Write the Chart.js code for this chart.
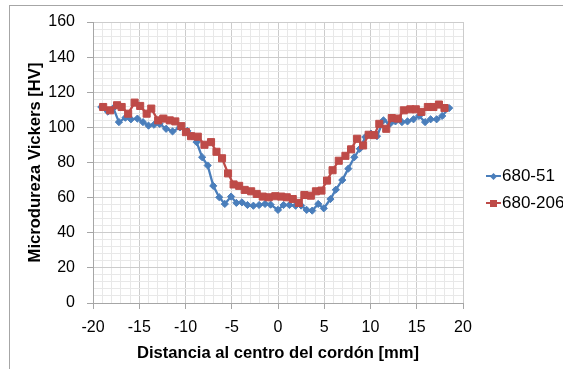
<!DOCTYPE html>
<html>
<head>
<meta charset="utf-8">
<script src="https://cdn.jsdelivr.net/npm/chart.js@4.4.1/dist/chart.umd.min.js"></script>
<style>
    html, body { margin: 0; padding: 0; background: #fff; overflow: hidden; }
    #wrap { position: relative; width: 563px; height: 369px; overflow: hidden; }
    #frame { position: absolute; left: 9px; top: 5px; width: 640px; height: 420px; border: 1px solid #a6a6a6; }
    #chart_canvas { position: absolute; left: 0; top: 0; }
    #legend { position: absolute; left: 486px; top: 0; font: 17px "Liberation Sans", Arial, sans-serif; color: #000; white-space: nowrap; }
    .legend_row { position: absolute; left: 0; height: 20px; display: flex; align-items: center; }
    .legend_key { position: relative; width: 15px; height: 20px; margin-right: 1px; }
    .legend_key .line { position: absolute; left: 0; right: 0; top: 9px; height: 2px; }
    .legend_key .mark { position: absolute; }
</style>
</head>
<body>
<div id="wrap">
    <div id="frame"></div>
    <canvas id="chart_canvas" width="563" height="369"></canvas>
    <div id="legend"></div>
</div>
<script>
// distancia al centro del cordon [mm] y microdureza [HV]
let series_names = ["680-51", "680-206"];

let x_680_51 = [-19.1, -18.4, -17.8, -17.2, -16.5, -15.9, -15.2, -14.6, -14.0, -13.4, -12.8, -12.1, -11.4, -10.6,
    -9.8, -9.3, -8.8, -8.2, -7.6, -7.0, -6.35, -5.75, -5.07, -4.5, -3.9, -3.3, -2.66, -2.04, -1.4, -0.8, 0.0,
    0.6, 1.24, 1.9, 2.5, 3.1, 3.7, 4.35, 4.95, 5.67, 6.25, 6.95, 7.6, 8.25, 8.84, 9.44, 10.05, 10.7, 11.4,
    12.1, 12.7, 13.4, 14.0, 14.65, 15.25, 15.9, 16.5, 17.15, 17.75, 18.5];
let y_680_51 = [111.6, 109, 111, 103, 105.5, 104.6, 105, 103, 101, 101.5, 102, 99.2, 97.7, 100,
    98, 95, 91.6, 83, 78.3, 66.7, 60.2, 56.4, 60.6, 57, 57.3, 55.8, 55.4, 55.8, 56.4, 56, 53,
    55.8, 55.8, 55.4, 55.5, 53, 52.6, 56.4, 53.9, 59.2, 64.5, 70, 76.5, 83, 87.8, 94.5, 96.4, 95, 104,
    102, 103.4, 103, 103.4, 104.6, 106.5, 103, 104.6, 104.6, 106.5, 111];

let x_680_206 = [-18.9, -18.15, -17.4, -16.9, -16.2, -15.5, -14.9, -14.2, -13.7, -12.96, -12.4, -11.7, -11.1,
    -10.45, -9.95, -9.4, -8.67, -7.95, -7.24, -6.65, -6.05, -5.4, -4.8, -4.2, -3.6, -2.9, -2.3, -1.65, -1.0,
    -0.3, 0.35, 0.95, 1.6, 2.25, 2.85, 3.55, 4.1, 4.7, 5.3, 5.9, 6.57, 7.29, 7.9, 8.55, 9.2, 9.8, 10.4,
    10.95, 11.7, 12.3, 12.96, 13.6, 14.3, 14.9, 15.5, 16.2, 16.8, 17.4, 18.0];
let y_680_206 = [111.6, 109.7, 112.6, 111.6, 107.8, 114.1, 112.2, 107.8, 110.7, 104, 105, 104, 103.4,
    100.7, 97.3, 95, 94.7, 90.1, 91.6, 86.1, 82.4, 73.8, 67.5, 66.7, 64.4, 63.6, 62.1, 60.6, 60.2,
    60.8, 60.6, 60.2, 59.2, 57, 61.5, 61.1, 63.6, 64, 69.7, 75.6, 81, 83.8, 87.5, 93.5, 89.7, 95.8, 95.6,
    102, 99.2, 105.3, 105, 109.7, 110.3, 110.3, 108.8, 111.6, 111.6, 113, 111];

let x_tick_labels = [-20, -15, -10, -5, 0, 5, 10, 15, 20];
let y_tick_labels = [0, 20, 40, 60, 80, 100, 120, 140, 160];

let series_colors = ["#4a7ebb", "#be4b48"];

document.addEventListener("DOMContentLoaded", ()=>{
    initialize_page();
});

function initialize_page(){
    let canvas = document.getElementById("chart_canvas");
    let datasets = [
        new_line_dataset(series_names[0], x_680_51, y_680_51, series_colors[0], "rectRot", 3.6, 1),
        new_line_dataset(series_names[1], x_680_206, y_680_206, series_colors[1], "rect", 5, 0)
    ];
    new_scatter_chart(canvas, datasets);
    build_legend(document.getElementById("legend"));
}

function to_points(xs, ys){
    let points = [];
    for(let i = 0; i < xs.length; i++){
        points.push({x: xs[i], y: ys[i]});
    }
    return points;
}

function new_line_dataset(label, xs, ys, color, point_style, radius, order){
    return {
        label: label,
        data: to_points(xs, ys),
        borderColor: color,
        backgroundColor: color,
        borderWidth: 2.3,
        showLine: true,
        pointStyle: point_style,
        pointRadius: radius,
        pointBorderWidth: 1,
        pointBackgroundColor: color,
        pointBorderColor: color,
        order: order
    };
}

function grid_color(is_major){
    return is_major ? "#cccccc" : "#e8e8e8";
}

function new_scatter_chart(canvas, datasets){
    let tick_font = {family: "'Liberation Sans', Arial, sans-serif", size: 16};
    let title_font = {family: "'Liberation Sans', Arial, sans-serif", size: 16.6, weight: "bold"};

    return new Chart(canvas, {
        type: "scatter",
        data: {datasets: datasets},
        options: {
            responsive: false,
            animation: false,
            layout: {padding: {top: 22, right: 100, bottom: 0, left: 0}},
            plugins: {
                legend: {display: false},
                tooltip: {enabled: false}
            },
            scales: {
                x: {
                    type: "linear",
                    min: -20,
                    max: 20,
                    afterFit: (scale)=>{ scale.height = 66; },
                    ticks: {
                        stepSize: 1,
                        autoSkip: false,
                        maxRotation: 0,
                        padding: 9,
                        color: "#000",
                        font: tick_font,
                        callback: (value)=> x_tick_labels.includes(value) ? String(value) : ""
                    },
                    grid: {
                        color: (ctx)=> grid_color(x_tick_labels.includes(ctx.tick.value)),
                        tickColor: (ctx)=> x_tick_labels.includes(ctx.tick.value) ? "#a6a6a6" : "rgba(0,0,0,0)",
                        tickLength: 6
                    },
                    border: {color: "#a6a6a6", width: 1},
                    title: {
                        display: true,
                        text: "Distancia al centro del cordón [mm]",
                        color: "#000",
                        font: title_font,
                        padding: {top: 0, bottom: 6}
                    }
                },
                y: {
                    type: "linear",
                    min: 0,
                    max: 160,
                    afterFit: (scale)=>{ scale.width = 93; },
                    ticks: {
                        stepSize: 4,
                        autoSkip: false,
                        padding: 12,
                        color: "#000",
                        font: tick_font,
                        callback: (value)=> y_tick_labels.includes(value) ? String(value) : ""
                    },
                    grid: {
                        color: (ctx)=> grid_color(y_tick_labels.includes(ctx.tick.value)),
                        tickColor: (ctx)=> y_tick_labels.includes(ctx.tick.value) ? "#a6a6a6" : "rgba(0,0,0,0)",
                        tickLength: 6
                    },
                    border: {color: "#a6a6a6", width: 1},
                    title: {
                        display: true,
                        text: "Microdureza Vickers [HV]",
                        color: "#000",
                        font: title_font,
                        padding: {top: 25, bottom: 0}
                    }
                }
            }
        }
    });
}

function build_legend(legend){
    let row_tops = [166, 193];
    for(let i = 0; i < series_names.length; i++){
        let row = document.createElement("div");
        row.className = "legend_row";
        row.style.top = row_tops[i] + "px";

        let key = document.createElement("span");
        key.className = "legend_key";
        let line = document.createElement("span");
        line.className = "line";
        line.style.background = series_colors[i];
        let mark = document.createElement("span");
        mark.className = "mark";
        mark.style.background = series_colors[i];
        if(i == 0){
            mark.style.width = "5px";
            mark.style.height = "5px";
            mark.style.left = "5px";
            mark.style.top = "7.5px";
            mark.style.transform = "rotate(45deg)";
        }
        else{
            mark.style.width = "7px";
            mark.style.height = "7px";
            mark.style.left = "4px";
            mark.style.top = "6.5px";
        }
        key.appendChild(line);
        key.appendChild(mark);

        let text = document.createElement("span");
        text.textContent = series_names[i];

        row.appendChild(key);
        row.appendChild(text);
        legend.appendChild(row);
    }
}
</script>
</body>
</html>
